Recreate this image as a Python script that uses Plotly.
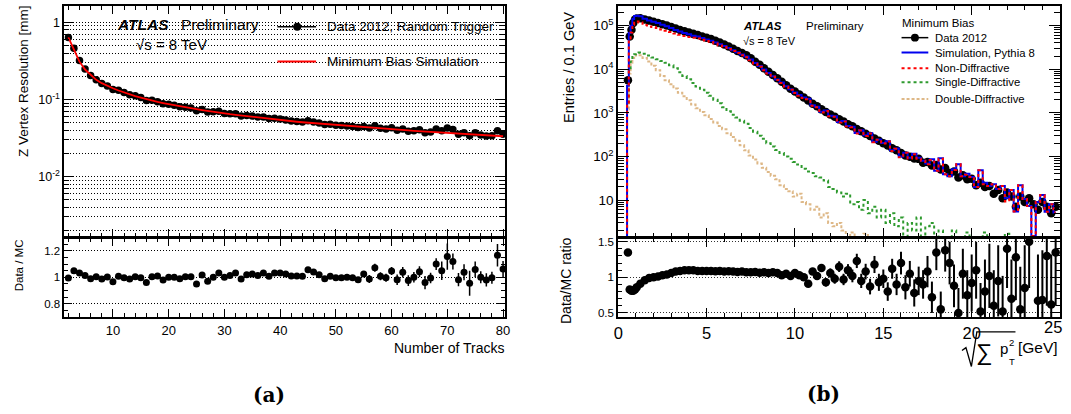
import plotly.graph_objects as go

FONT = "Liberation Sans, Arial, Helvetica, sans-serif"
W, H = 1071, 414


def fx(p):
    return p / W


def fy(p):
    return 1 - p / H


# ---------------- (a) Z vertex resolution vs number of tracks ----------------
n_tracks = list(range(2, 81))
res_data = [0.637, 0.462, 0.320, 0.248, 0.205, 0.181, 0.161, 0.150, 0.135,
            0.132, 0.123, 0.115, 0.112, 0.106, 0.097, 0.0975, 0.0939, 0.0882, 0.087,
            0.084, 0.0807, 0.0794, 0.0774, 0.0713, 0.0743, 0.0689, 0.0695, 0.0702, 0.0660,
            0.0654, 0.0654, 0.0612, 0.0620, 0.0611, 0.0593, 0.0593, 0.0569, 0.0570, 0.0558,
            0.0544, 0.0528, 0.0520, 0.0511, 0.0529, 0.0512, 0.0495, 0.0474, 0.0476, 0.0465,
            0.0459, 0.0454, 0.0447, 0.0435, 0.0448, 0.0426, 0.0458, 0.0425, 0.0416, 0.0430,
            0.0399, 0.0416, 0.0387, 0.0393, 0.0406, 0.0370, 0.0379, 0.0415, 0.0392, 0.0427,
            0.0409, 0.0355, 0.0371, 0.0338, 0.0371, 0.0347, 0.0336, 0.0339, 0.0393, 0.0355]
res_mc = [0.640, 0.440, 0.310, 0.245, 0.207, 0.180, 0.163, 0.150, 0.140,
          0.131, 0.123, 0.117, 0.111, 0.106, 0.101, 0.097, 0.093, 0.090, 0.087,
          0.084, 0.0815, 0.079, 0.077, 0.075, 0.073, 0.071, 0.0695, 0.068, 0.0660,
          0.0646, 0.0633, 0.0620, 0.0608, 0.0596, 0.0585, 0.0574, 0.0564, 0.0552, 0.0540,
          0.0531, 0.0523, 0.0515, 0.0507, 0.0500, 0.0492, 0.0485, 0.0479, 0.0472, 0.0466,
          0.0460, 0.0454, 0.0448, 0.0443, 0.0437, 0.0432, 0.0427, 0.0422, 0.0417, 0.0410,
          0.0406, 0.0401, 0.0397, 0.0393, 0.0389, 0.0385, 0.0381, 0.0377, 0.0373, 0.0369,
          0.0365, 0.0361, 0.0357, 0.0354, 0.0350, 0.0347, 0.0343, 0.0340, 0.0337, 0.0334]
ratio_a = [0.995, 1.05, 1.033, 1.013, 0.99, 1.005, 0.987, 1.003, 0.967,
           1.008, 0.997, 0.987, 1.005, 0.997, 0.96, 1.005, 1.01, 0.98, 1.0,
           1.0, 0.99, 1.005, 1.005, 0.95, 1.018, 0.97, 1.0, 1.033, 1.0,
           1.013, 1.033, 0.987, 1.02, 1.025, 1.013, 1.033, 1.008, 1.033, 1.033,
           1.025, 1.01, 1.01, 1.008, 1.058, 1.04, 1.02, 0.99, 1.008, 0.997,
           0.997, 1.0, 0.997, 0.982, 1.025, 0.987, 1.073, 1.008, 0.997, 1.048,
           0.982, 1.038, 0.975, 1.0, 1.043, 0.96, 0.995, 1.1, 1.05, 1.157,
           1.12, 0.982, 1.038, 0.955, 1.06, 1.0, 0.98, 0.997, 1.167, 1.063]
ratio_a_err = [0.005, 0.005, 0.005, 0.005, 0.005, 0.005, 0.005, 0.005, 0.005,
               0.005, 0.005, 0.005, 0.005, 0.005, 0.005, 0.005, 0.005, 0.005, 0.005,
               0.005, 0.005, 0.005, 0.005, 0.005, 0.005, 0.005, 0.005, 0.005, 0.005,
               0.008, 0.008, 0.008, 0.008, 0.008, 0.008, 0.008, 0.008, 0.008, 0.008,
               0.012, 0.012, 0.012, 0.012, 0.012, 0.012, 0.012, 0.012, 0.012, 0.012,
               0.018, 0.018, 0.018, 0.018, 0.018, 0.03, 0.03, 0.03, 0.03, 0.03,
               0.04, 0.04, 0.04, 0.04, 0.04, 0.05, 0.04, 0.045, 0.07, 0.1,
               0.06, 0.05, 0.06, 0.095, 0.06, 0.045, 0.05, 0.045, 0.085, 0.06]

# ---------------- (b) sqrt(sum pT^2) distribution ----------------
pt_bins = [0.45, 0.55, 0.65, 0.75, 0.85, 0.95, 1.05] + [round(1.25 + 0.25 * i, 2) for i in range(95)]
data_b = [0, 5600, 56000, 80000, 115000, 138000, 145000,
          148000, 138000, 130000, 123000,
          115000, 107000, 100000, 93300,
          86100, 79400, 74100, 69200,
          64600, 61000, 56200, 52500,
          49000, 44700, 40700, 36700,
          33100, 29500, 26300, 23400,
          20900, 17800, 14800, 12600,
          10500, 8710, 7410, 6170,
          5130, 4270, 3550, 3090,
          2630, 2240, 1910, 1620,
          1410, 1200, 1050, 912,
          813, 708, 631, 550,
          490, 427, 380, 331,
          295, 257, 229, 200,
          178, 155, 138, 120,
          105, 98, 90, 88,
          72, 75, 62, 64,
          50, 54, 42, 45,
          33, 37, 30, 31,
          22, 25, 20, 21,
          14, 17, 11, 15,
          12, 7, 12, 9,
          11, 8, 6, 9,
          7, 5, 7]
sim_b = [0, 4150, 67500, 98800, 142000, 166000, 169000,
         163000, 144000, 131000, 123000,
         114000, 104000, 96200, 88000,
         79700, 72800, 67400, 62900,
         58700, 56000, 51600, 48200,
         45000, 41200, 37300, 34000,
         30500, 27300, 24500, 21700,
         19500, 16600, 13800, 11800,
         9810, 8220, 6930, 5820,
         4980, 4070, 3480, 2920,
         2550, 2240, 2100, 1500,
         1380, 1060, 1130, 860,
         830, 616, 650, 500,
         480, 347, 400, 306,
         339, 218, 246, 204,
         222, 138, 153, 100,
         122, 93, 115, 93,
         80, 69, 86, 47,
         91, 39, 35, 51,
         66, 35, 40, 34,
         20, 48, 25, 21,
         23, 18, 21, 11,
         17, 5.5, 22, 10.6,
         7.3, 1.5, 9, 13,
         5.4, 8, 5.2]
nd_b = [0, 1450, 50500, 69800, 105000, 123500, 124000,
        118000, 103500, 95500, 92500,
        87500, 81500, 76600, 71200,
        65600, 61400, 58000, 55000,
        52400, 50700, 47200, 44400,
        41800, 38600, 35100, 32200,
        29100, 26100, 23500, 20900,
        18800, 16000, 13300, 11400,
        9500, 7980, 6720, 5650,
        4840, 3950, 3380, 2830,
        2470, 2180, 2050, 1450,
        1340, 1020, 1100, 837,
        810, 598, 636, 486,
        470, 338, 394, 294,
        334, 211, 242, 198,
        219, 133, 150, 96,
        122, 90, 113, 89,
        80, 66, 83, 47,
        89, 39, 35, 49,
        66, 35, 38, 34,
        20, 48, 23, 21,
        23, 18, 21, 9.3,
        17, 5.5, 22, 10.6,
        7.3, 1.5, 9, 13,
        5.4, 8, 5.2]
sd_b = [0, 1500, 9000, 15000, 19000, 22000, 23500,
        24000, 22500, 20500, 18500,
        17000, 15500, 14000, 12300,
        10500, 8500, 7000, 5900,
        4800, 4000, 3400, 2900,
        2450, 2000, 1650, 1350,
        1080, 900, 780, 660,
        560, 450, 370, 300,
        255, 200, 170, 140,
        120, 100, 88, 75,
        65, 52, 45, 42,
        35, 33, 28, 20,
        18, 15, 12, 14,
        8, 9, 6, 10,
        5, 7, 4, 6,
        3, 5, 2.5, 4,
        0, 3, 2, 4,
        0, 2.5, 3, 0,
        2, 0, 0, 2,
        0, 0, 1.8, 0,
        0, 0, 1.8, 0,
        0, 0, 0, 1.7,
        0, 0, 0, 0,
        0, 0, 0, 0,
        0, 0, 0]
dd_b = [0, 1200, 8000, 14000, 18000, 20500, 21500,
        21000, 18000, 15000, 12000,
        9500, 7000, 5600, 4500,
        3600, 2900, 2400, 1950,
        1550, 1270, 1050, 880,
        720, 600, 500, 420,
        340, 280, 230, 180,
        138, 105, 85, 69,
        55, 44, 36, 30,
        22, 18, 16, 12,
        14, 9, 8, 6,
        7, 4, 5, 3,
        2.5, 3, 2, 0,
        1.8, 0, 0, 1.7,
        0, 0, 0, 0,
        0, 0, 0, 0,
        0, 0, 0, 0,
        0, 0, 0, 0,
        0, 0, 0, 0,
        0, 0, 0, 0,
        0, 0, 0, 0,
        0, 0, 0, 0,
        0, 0, 0, 0,
        0, 0, 0, 0,
        0, 0, 0]
ratio_b = [None, 1.35, 0.83, 0.81, 0.81, 0.83, 0.86,
           0.91, 0.96, 0.99, 1.0,
           1.01, 1.03, 1.04, 1.06,
           1.08, 1.09, 1.10, 1.10,
           1.10, 1.09, 1.09, 1.09,
           1.09, 1.085, 1.09, 1.08,
           1.085, 1.08, 1.075, 1.08,
           1.07, 1.07, 1.075, 1.065,
           1.07, 1.06, 1.07, 1.06,
           1.03, 1.05, 1.02, 1.06,
           1.03, 1.00, 0.91, 1.08,
           1.02, 1.13, 0.93, 1.06,
           0.98, 1.15, 0.97, 1.10,
           1.02, 1.23, 0.95, 1.08,
           0.87, 1.18, 0.93, 0.98,
           0.80, 1.12, 0.90, 1.20,
           0.86, 1.05, 0.78, 0.95,
           0.90, 1.08, 0.72, 1.35,
           0.55, 1.38, 1.20, 0.88,
           0.50, 1.05, 0.75, 0.92,
           1.10, 0.52, 0.80, 1.02,
           0.60, 0.95, 0.52, 1.40,
           0.70, 1.28, 0.55, 0.85,
           1.50, 5.3, 0.67, 0.68,
           1.30, 0.62, 1.35]
ratio_b_err = [0, 0.02, 0.005, 0.005, 0.005, 0.005, 0.005,
               0.005, 0.005, 0.005, 0.005,
               0.005, 0.005, 0.005, 0.005,
               0.006, 0.006, 0.006, 0.006,
               0.006, 0.006, 0.006, 0.006,
               0.007, 0.007, 0.007, 0.007,
               0.008, 0.008, 0.009, 0.01,
               0.01, 0.012, 0.013, 0.015,
               0.016, 0.018, 0.02, 0.022,
               0.024, 0.027, 0.03, 0.033,
               0.036, 0.04, 0.044, 0.048,
               0.052, 0.056, 0.06, 0.065,
               0.07, 0.075, 0.08, 0.085,
               0.09, 0.1, 0.1, 0.11,
               0.11, 0.12, 0.12, 0.13,
               0.13, 0.14, 0.15, 0.16,
               0.17, 0.18, 0.19, 0.2,
               0.2, 0.22, 0.22, 0.25,
               0.25, 0.3, 0.3, 0.3,
               0.35, 0.35, 0.35, 0.4,
               0.4, 0.4, 0.45, 0.45,
               0.5, 0.5, 0.5, 0.55,
               0.55, 0.6, 0.6, 0.6,
               0.65, 2.0, 0.65, 0.7,
               0.7, 0.7, 0.75]

# empty bins are drawn at the lower frame edge (like a ROOT histogram)
HIST_FLOOR = 0.5


def hist_y(vals):
    return [v if v > 0 else HIST_FLOOR for v in vals]


C_BLUE = "#0000ee"
C_RED = "#ff0000"
C_GREEN = "#2e9a2e"
C_TAN = "#deb887"

fig = go.Figure()

# (a) top
fig.add_trace(go.Scatter(x=n_tracks, y=res_data, mode="markers", xaxis="x", yaxis="y",
                         marker=dict(color="black", size=7.5)))
fig.add_trace(go.Scatter(x=n_tracks, y=res_mc, mode="lines", xaxis="x", yaxis="y",
                         line=dict(color=C_RED, width=1.8)))
# (a) bottom
fig.add_trace(go.Scatter(x=n_tracks, y=ratio_a, mode="markers", xaxis="x2", yaxis="y2",
                         marker=dict(color="black", size=7),
                         error_y=dict(type="data", array=ratio_a_err, thickness=1.5, width=0, color="black")))
# (b) top
fig.add_trace(go.Scatter(x=pt_bins, y=hist_y(dd_b), mode="lines", xaxis="x3", yaxis="y3",
                         line=dict(color=C_TAN, width=2, dash="3px,2px", shape="hvh")))
fig.add_trace(go.Scatter(x=pt_bins, y=hist_y(sd_b), mode="lines", xaxis="x3", yaxis="y3",
                         line=dict(color=C_GREEN, width=2, dash="3px,3px", shape="hvh")))
dx = [x for x, v in zip(pt_bins, data_b) if v > 0]
dy = [v for v in data_b if v > 0]
fig.add_trace(go.Scatter(x=dx, y=dy, mode="markers", xaxis="x3", yaxis="y3",
                         marker=dict(color="black", size=8.5)))
fig.add_trace(go.Scatter(x=pt_bins, y=hist_y(sim_b), mode="lines", xaxis="x3", yaxis="y3",
                         line=dict(color=C_BLUE, width=2, shape="hvh")))
fig.add_trace(go.Scatter(x=pt_bins, y=hist_y(nd_b), mode="lines", xaxis="x3", yaxis="y3",
                         line=dict(color=C_RED, width=2, dash="3px,3px", shape="hvh")))
# (b) bottom
fig.add_trace(go.Scatter(x=pt_bins, y=ratio_b, mode="markers", xaxis="x4", yaxis="y4",
                         marker=dict(color="black", size=8.5),
                         error_y=dict(type="data", array=ratio_b_err, thickness=2, width=0, color="black")))

AX_A = [fx(60), fx(505)]
AX_B = [fx(619), fx(1065)]
D_TOP = [fy(237), fy(4)]
D_BOT = [fy(318), fy(238)]

GRID_DASH = "1px,2px"


def axis(**kw):
    d = dict(showline=True, linecolor="black", linewidth=2, mirror="allticks",
             ticks="inside", tickcolor="black", tickwidth=1, showgrid=False, zeroline=False,
             tickfont=dict(family=FONT, size=12.5, color="black"))
    d.update(kw)
    return d


def minor(**kw):
    d = dict(ticks="inside", tickcolor="black", tickwidth=1, ticklen=4)
    d.update(kw)
    return d


minor_a_log = [m * 10.0 ** e for e in (-3, -2, -1) for m in range(2, 10)]
minor_a_log = [v for v in minor_a_log if v > 0.0017]
minor_b_log = [m * 10.0 ** e for e in (0, 1, 2, 3, 4, 5) for m in range(2, 10)]
minor_b_log = [v for v in minor_b_log if 1.45 < v < 2.8e5]

fig.update_layout(
    width=W, height=H, autosize=False, margin=dict(l=0, r=0, t=0, b=0),
    paper_bgcolor="white", plot_bgcolor="white", showlegend=False,
    font=dict(family=FONT, color="black"),
    xaxis=axis(domain=AX_A, anchor="y", range=[1.3, 80.4], tickmode="linear", tick0=0, dtick=10,
               ticklen=8, showticklabels=False, minor=minor(dtick=2, tick0=0)),
    yaxis=axis(domain=D_TOP, anchor="x", type="log", range=[-2.78, 0.214],
               tickmode="array", tickvals=[0.01, 0.1, 1],
               ticktext=["10<sup>-2</sup>", "10<sup>-1</sup>", "1"], ticklen=10,
               showgrid=True, gridcolor="black", gridwidth=1, griddash=GRID_DASH,
               minor=minor(tickmode="array", tickvals=minor_a_log, ticklen=5, showgrid=True,
                           gridcolor="black", gridwidth=1, griddash=GRID_DASH)),
    xaxis2=axis(domain=AX_A, anchor="y2", range=[1.3, 80.4], tickmode="linear", tick0=0, dtick=10,
                ticklen=8, minor=minor(dtick=2, tick0=0),
                tickfont=dict(family=FONT, size=13, color="black")),
    yaxis2=axis(domain=D_BOT, anchor="x2", range=[0.7, 1.3], tickmode="array",
                tickvals=[0.8, 1.0, 1.2], ticktext=["0.8", "1", "1.2"], ticklen=8,
                showgrid=True, gridcolor="black", gridwidth=1, griddash=GRID_DASH,
                tickfont=dict(family=FONT, size=11.5, color="black"),
                minor=minor(dtick=0.05, tick0=0)),
    xaxis3=axis(domain=AX_B, anchor="y3", range=[0, 25], tickmode="linear", tick0=0, dtick=5,
                ticklen=9, showticklabels=False, minor=minor(dtick=1, tick0=0)),
    yaxis3=axis(domain=D_TOP, anchor="x3", type="log", range=[0.16, 5.45],
                tickmode="array", tickvals=[10, 100, 1000, 1e4, 1e5],
                ticktext=["10", "10<sup>2</sup>", "10<sup>3</sup>", "10<sup>4</sup>", "10<sup>5</sup>"],
                ticklen=11, tickfont=dict(family=FONT, size=13.5, color="black"),
                minor=minor(tickmode="array", tickvals=minor_b_log, ticklen=6)),
    xaxis4=axis(domain=AX_B, anchor="y4", range=[0, 25], tickmode="array",
                tickvals=[0, 5, 10, 15, 20], ticktext=["0", "5", "10", "15", "20"],
                ticklen=9, minor=minor(dtick=1, tick0=0),
                tickfont=dict(family=FONT, size=16.5, color="black")),
    yaxis4=axis(domain=D_BOT, anchor="x4", range=[0.444, 1.556], tickmode="array",
                tickvals=[0.5, 1.0, 1.5], ticktext=["0.5", "1", "1.5"], ticklen=9,
                showgrid=True, gridcolor="#333333", gridwidth=1, griddash=GRID_DASH,
                tickfont=dict(family=FONT, size=11.5, color="black"),
                minor=minor(dtick=0.1, tick0=0)),
)

ann = []


def text(x, y, s, size, xanchor="left", angle=0, family=FONT, color="black", yanchor="middle"):
    ann.append(dict(x=fx(x), y=fy(y), xref="paper", yref="paper", text=s, showarrow=False,
                    xanchor=xanchor, yanchor=yanchor, textangle=angle,
                    font=dict(family=family, size=size, color=color)))


# last x tick label of panel (b), kept inside the page edge
text(1069, 328, "25", 16.5, xanchor="right")

# axis titles
text(18, 80, "Z Vertex Resolution [mm]", 13.5, xanchor="center", angle=-90)
text(15, 266, "Data / MC", 11.5, xanchor="center", angle=-90)
text(506, 349, "Number of Tracks", 14, xanchor="right")
text(570, 66, "Entries / 0.1 GeV", 14.6, xanchor="center", angle=-90)
text(567, 281, "Data/MC ratio", 14, xanchor="center", angle=-90)

# panel (a) labels
text(111, 23, "<b><i>ATLAS</i></b>", 15.5)
text(176, 23, "Preliminary", 15.5)
text(130, 43, "√s = 8 TeV", 15)
text(323, 25, "Data 2012, Random Trigger", 13.5)
text(323, 60, "Minimum Bias Simulation", 13.5)

# panel (b) labels
text(743, 24, "<b><i>ATLAS</i></b>", 11.5)
text(807, 24, "Preliminary", 11.5)
text(743, 39, "√s = 8 TeV", 11)
text(903, 21, "Minimum Bias", 11.5)
legend_b = [("Data 2012", 36), ("Simulation, Pythia 8", 51), ("Non-Diffractive", 67),
            ("Single-Diffractive", 81), ("Double-Diffractive", 98)]
for lab, yy in legend_b:
    text(937, yy, lab, 11.3)

# x title of panel (b): sqrt(sum pT^2) [GeV]
text(988, 353, "∑", 23, xanchor="center")
text(1008, 350, "p", 15, xanchor="center")
text(1016, 344, "2", 9.5, xanchor="center")
text(1016, 363, "T", 9.5, xanchor="center")
text(1043, 349, "[GeV]", 15.5, xanchor="center")

# captions
text(266, 397, "<b>(a)</b>", 20, xanchor="center", family="DejaVu Serif, serif")
text(826, 396, "<b>(b)</b>", 20, xanchor="center", family="DejaVu Serif, serif")

shapes = []


def seg(x0, y0, x1, y1, color="black", width=1.5, dash=None):
    ln = dict(color=color, width=width)
    if dash:
        ln["dash"] = dash
    shapes.append(dict(type="line", xref="paper", yref="paper", x0=fx(x0), y0=fy(y0),
                       x1=fx(x1), y1=fy(y1), line=ln))


def dot(cx, cy, r):
    shapes.append(dict(type="circle", xref="paper", yref="paper", x0=fx(cx - r), x1=fx(cx + r),
                       y0=fy(cy + r), y1=fy(cy - r), fillcolor="black", line=dict(color="black", width=0)))


# legend (a)
seg(275, 25, 314, 25)
dot(295, 25, 4)
seg(275, 60, 314, 60, color=C_RED, width=2)
# legend (b)
seg(905, 36, 932, 36)
dot(918.5, 36, 4)
seg(905, 51, 932, 51, color=C_BLUE, width=2)
seg(905, 67, 932, 67, color=C_RED, width=2, dash="3px,3px")
seg(905, 81, 932, 81, color=C_GREEN, width=2, dash="3px,3px")
seg(905, 98, 932, 98, color=C_TAN, width=2, dash="3px,2px")

# radical sign of the x title
path_pts = [(966, 352), (970, 349), (975.5, 368), (981, 333), (1020, 333)]
path = "M " + " L ".join(f"{fx(a)},{fy(b)}" for a, b in path_pts)
shapes.append(dict(type="path", xref="paper", yref="paper", path=path,
                   line=dict(color="black", width=1.3)))

fig.update_layout(annotations=ann, shapes=shapes, hovermode=False)
fig.write_html("out.html",
               config={"displayModeBar": False, "staticPlot": True},
               post_script="document.body.style.margin='0';document.body.style.overflow='hidden';")
